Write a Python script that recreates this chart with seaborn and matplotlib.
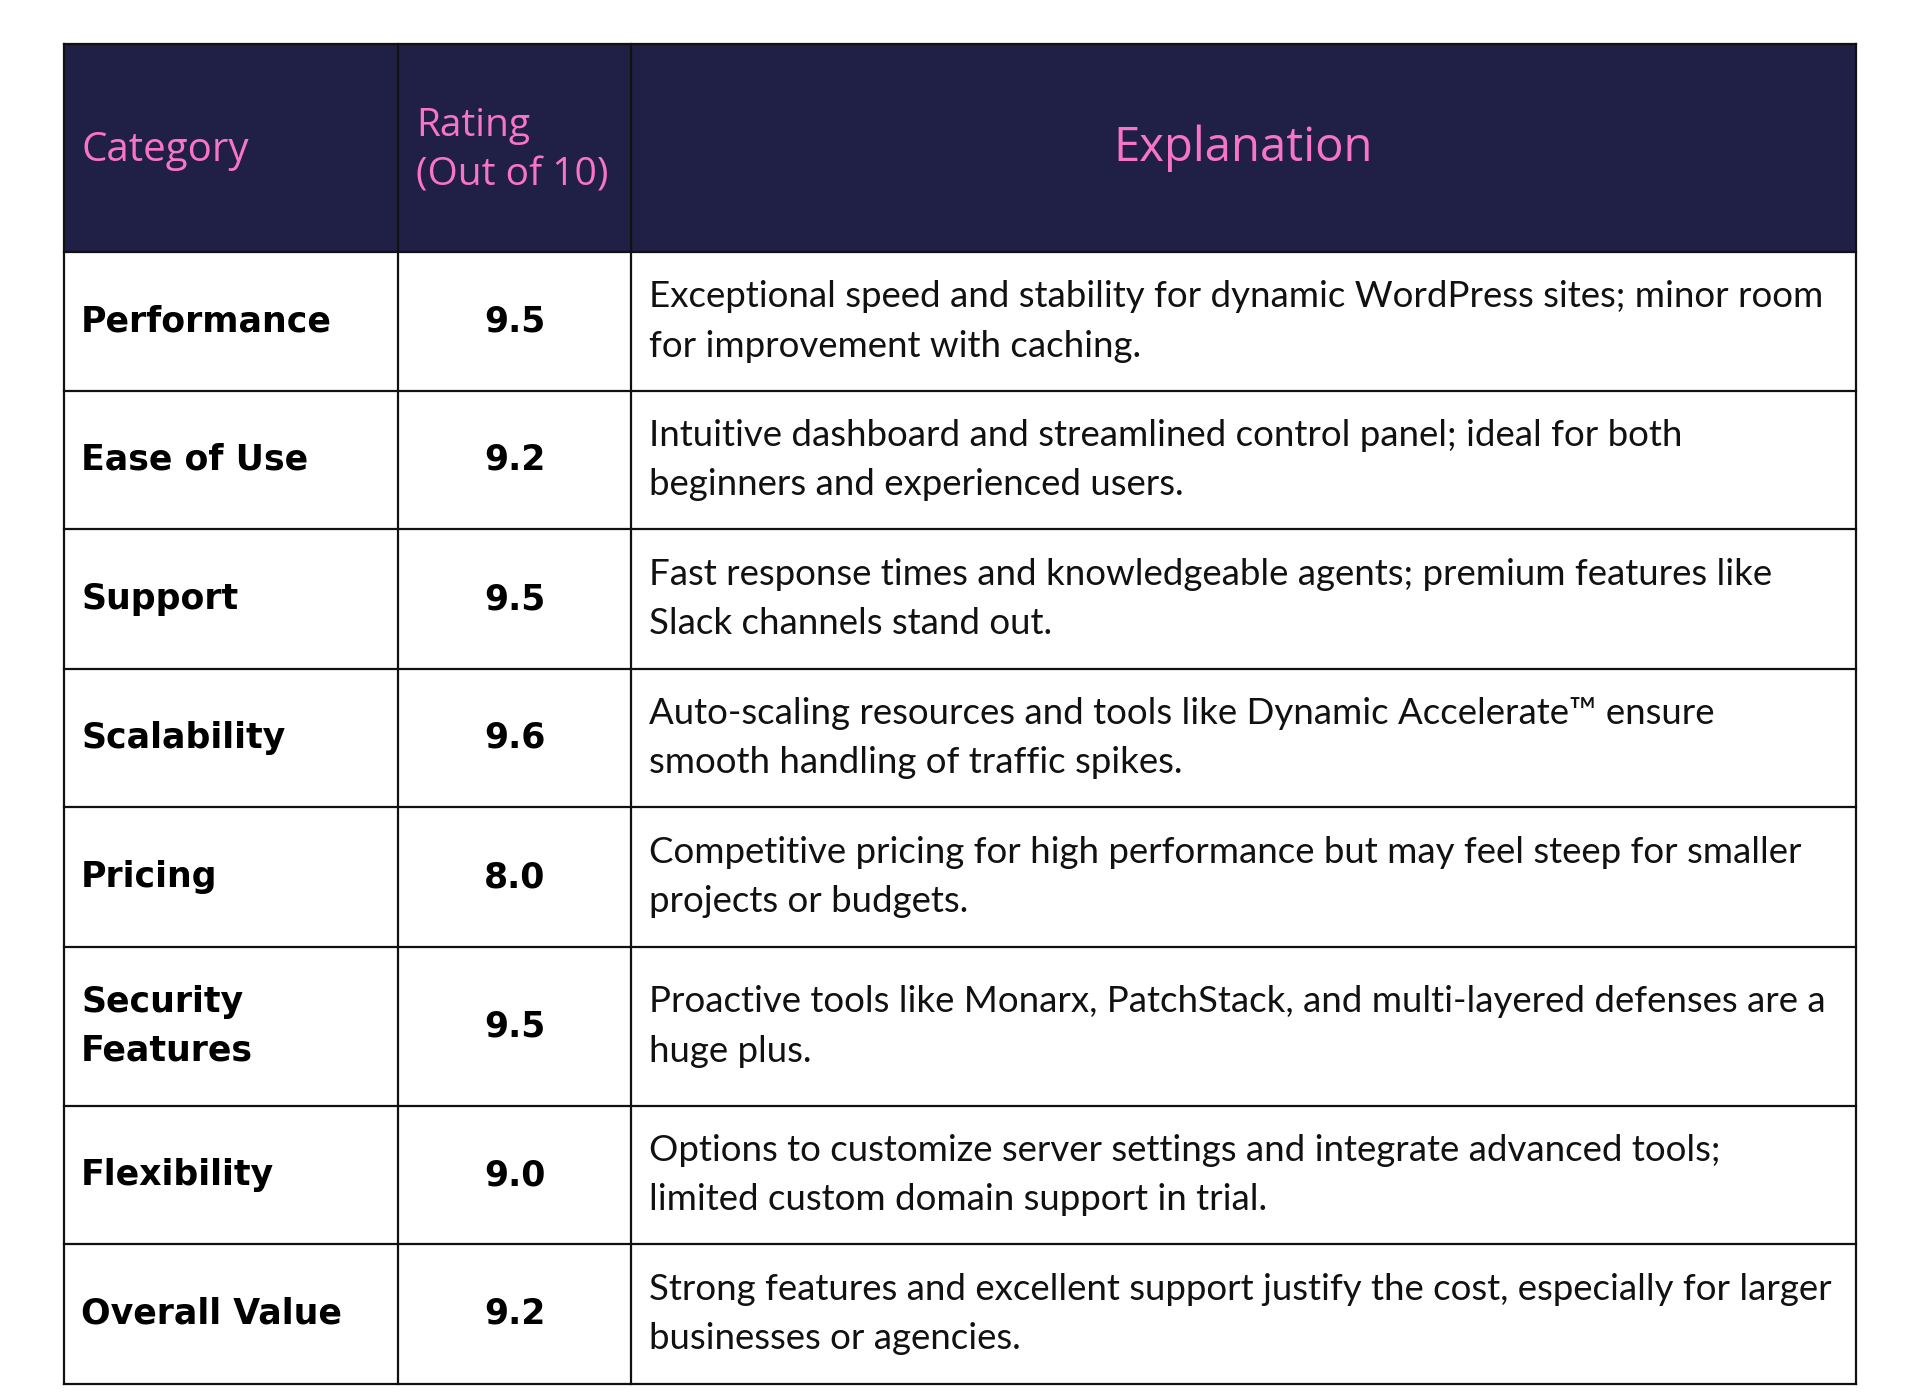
import matplotlib.pyplot as plt
import seaborn as sns
import pandas as pd

categories = ["Performance", "Ease of Use", "Support", "Scalability", "Pricing",
              "Security\nFeatures", "Flexibility", "Overall Value"]
ratings = [9.5, 9.2, 9.5, 9.6, 8.0, 9.5, 9.0, 9.2]
explanations = [
    "Exceptional speed and stability for dynamic WordPress sites; minor room\nfor improvement with caching.",
    "Intuitive dashboard and streamlined control panel; ideal for both\nbeginners and experienced users.",
    "Fast response times and knowledgeable agents; premium features like\nSlack channels stand out.",
    "Auto-scaling resources and tools like Dynamic Accelerate\u2122 ensure\nsmooth handling of traffic spikes.",
    "Competitive pricing for high performance but may feel steep for smaller\nprojects or budgets.",
    "Proactive tools like Monarx, PatchStack, and multi-layered defenses are a\nhuge plus.",
    "Options to customize server settings and integrate advanced tools;\nlimited custom domain support in trial.",
    "Strong features and excellent support justify the cost, especially for larger\nbusinesses or agencies.",
]
headers = ["Category", "Rating\n(Out of 10)", "Explanation"]

df = pd.DataFrame({"Category": categories, "Rating": ratings, "Explanation": explanations})

sns.set_theme(style="white")

HEADER_BG = "#201F45"
PINK = "#F774C9"
LINE = "#111111"

# layout in pixels
col_x = [64, 398, 631, 1856]
top = 44
header_h = 208
row_h = [139, 138, 140, 138, 140, 159, 138, 140]

fig = plt.figure(figsize=(19.2, 14), dpi=100)
ax = fig.add_axes([0, 0, 1, 1])
ax.set_xlim(0, 1920)
ax.set_ylim(1400, 0)
ax.axis("off")

# header background
ax.add_patch(plt.Rectangle((col_x[0], top), col_x[-1] - col_x[0], header_h,
                           facecolor=HEADER_BG, edgecolor="none"))

hy = top + header_h / 2 + 3
ax.text(col_x[0] + 17, hy, headers[0], color=PINK, fontsize=29, family="Open Sans",
        ha="left", va="center")
ax.text(col_x[1] + 18, hy, headers[1], color=PINK, fontsize=28, family="Open Sans",
        ha="left", va="center", linespacing=1.4)
ax.text((col_x[2] + col_x[3]) / 2, hy - 3, headers[2], color=PINK, fontsize=34,
        family="Open Sans", ha="center", va="center")

# rows
y_edges = [top, top + header_h]
for h in row_h:
    y_edges.append(y_edges[-1] + h)

for i, row in df.iterrows():
    y0, y1 = y_edges[i + 1], y_edges[i + 2]
    yc = (y0 + y1) / 2
    ax.text(col_x[0] + 17, yc, row["Category"], color="black", fontsize=25,
            family="DejaVu Sans", weight="bold", ha="left", va="center", linespacing=1.55)
    ax.text((col_x[1] + col_x[2]) / 2, yc, f"{row['Rating']:.1f}", color="black",
            fontsize=25, family="DejaVu Sans", weight="bold", ha="center", va="center")
    ax.text(col_x[2] + 18, yc, row["Explanation"], color="#111111", fontsize=26.4,
            family="Lato", ha="left", va="center", linespacing=1.6)

# grid lines
for y in y_edges:
    ax.plot([col_x[0], col_x[-1]], [y, y], color=LINE, lw=1.6, solid_capstyle="projecting")
for x in col_x:
    ax.plot([x, x], [y_edges[0], y_edges[-1]], color=LINE, lw=1.6, solid_capstyle="projecting")

fig.savefig("out.png", dpi=100, facecolor="white")
